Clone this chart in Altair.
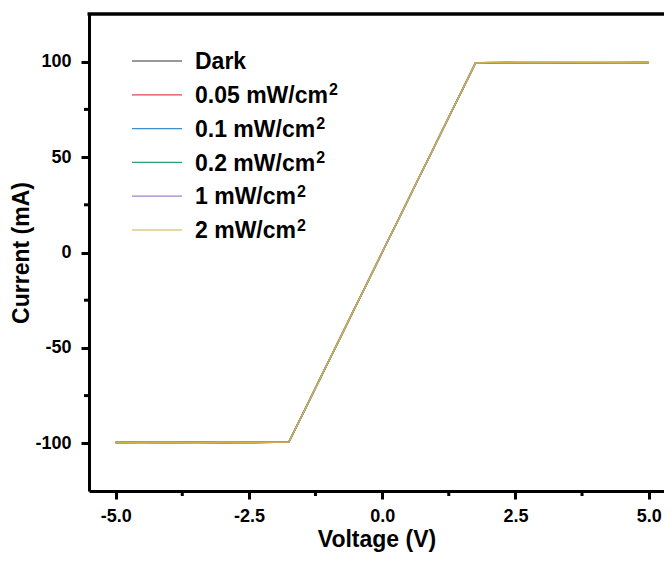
import altair as alt
import pandas as pd

# ---- data ----
voltage = [-5.0, -4.5, -4.0, -3.5, -3.0, -2.5, -2.0, -1.75, 0.0, 1.75, 2.0, 2.5, 3.0, 3.5, 4.0, 4.5, 5.0]
series = ["Dark", "0.05 mW/cm", "0.1 mW/cm", "0.2 mW/cm", "1 mW/cm", "2 mW/cm"]
superscripts = ["", "2", "2", "2", "2", "2"]
colors = ["#333333", "#e0454c", "#3a8fd0", "#2f9e70", "#a680cf", "#cdb24a"]
current_dark = [-99.6, -99.5, -99.6, -99.5, -99.6, -99.5, -99.4, -99.3, 0.0, 99.2, 99.5, 99.6, 99.5, 99.6, 99.5, 99.6, 99.6]
current_005 = [-99.5, -99.6, -99.5, -99.6, -99.5, -99.6, -99.5, -99.3, 0.0, 99.3, 99.6, 99.5, 99.6, 99.5, 99.6, 99.5, 99.6]
current_01 = [-99.7, -99.6, -99.7, -99.6, -99.7, -99.7, -99.5, -99.4, 0.0, 99.2, 99.4, 99.5, 99.4, 99.5, 99.4, 99.5, 99.5]
current_02 = [-99.6, -99.6, -99.5, -99.6, -99.6, -99.5, -99.5, -99.3, 0.0, 99.3, 99.5, 99.6, 99.6, 99.5, 99.6, 99.6, 99.6]
current_1 = [-99.5, -99.5, -99.6, -99.5, -99.5, -99.6, -99.4, -99.3, 0.0, 99.2, 99.5, 99.5, 99.6, 99.6, 99.5, 99.5, 99.6]
current_2 = [-99.6, -99.5, -99.5, -99.6, -99.5, -99.5, -99.5, -99.3, 0.0, 99.3, 99.6, 99.6, 99.5, 99.6, 99.6, 99.5, 99.6]
currents = [current_dark, current_005, current_01, current_02, current_1, current_2]

x_major = [-5.0, -2.5, 0.0, 2.5, 5.0]
x_minor = [-3.75, -1.25, 1.25, 3.75]
y_major = [-100, -50, 0, 50, 100]
y_minor = [-75, -25, 25, 75]

rows = []
for s, cur in zip(series, currents):
    for v, c in zip(voltage, cur):
        rows.append({"Voltage": v, "Current": c, "Series": s})
df = pd.DataFrame(rows)

W, H = 575, 477
X0 = -5.5
PX_PER_V = 53.3
X1 = X0 + W / PX_PER_V
Y0, Y1 = -125, 125
FONT = "Liberation Sans"
xscale = alt.Scale(domain=[X0, X1], nice=False, zero=False)
yscale = alt.Scale(domain=[Y0, Y1], nice=False, zero=False)
cscale = alt.Scale(domain=series, range=colors)

HYPHEN = "replace(datum.label, '\u2212', '-')"
xaxis = alt.Axis(values=x_major, format=".1f", labelExpr=HYPHEN, title="Voltage (V)", grid=False,
                 labelPadding=8, titlePadding=3)
yaxis = alt.Axis(values=y_major, format="d", labelExpr=HYPHEN, title="Current (mA)", grid=False,
                 labelPadding=10, titlePadding=1)

lines = alt.Chart(df).mark_line(strokeWidth=1.5, clip=True).encode(
    x=alt.X("Voltage:Q", scale=xscale, axis=xaxis),
    y=alt.Y("Current:Q", scale=yscale, axis=yaxis),
    color=alt.Color("Series:N", scale=cscale, legend=None),
    order=alt.Order("Voltage:Q"),
)

xminor = alt.Chart(pd.DataFrame({"Voltage": x_minor})).mark_rule(color="black", strokeWidth=3).encode(
    x=alt.X("Voltage:Q", scale=xscale, axis=xaxis),
    y=alt.value(H), y2=alt.value(H + 5),
)
yminor = alt.Chart(pd.DataFrame({"Current": y_minor})).mark_rule(color="black", strokeWidth=3).encode(
    y=alt.Y("Current:Q", scale=yscale, axis=yaxis),
    x=alt.value(0), x2=alt.value(-5),
)
topframe = alt.Chart(pd.DataFrame({"a": [0]})).mark_rule(color="black", strokeWidth=3.5).encode(
    x=alt.value(-1.5), x2=alt.value(W), y=alt.value(0),
)

# legend rows: pixel layout of the legend converted to data units
LEG_FS = 23
SUP_FS = 16
TEXT_X = 106
char_w = {"0": .556, "1": .556, "2": .556, "5": .556, ".": .278, " ": .278, "m": .889,
          "W": .944, "/": .278, "c": .556, "D": .722, "a": .556, "r": .389, "k": .556}
leg_rows = []
for i, (s, sup) in enumerate(zip(series, superscripts)):
    py = 47 + 33.8 * i
    width_px = sum(char_w.get(ch, .6) for ch in s) * LEG_FS
    leg_rows.append({"Series": s, "Sup": sup,
                     "Current": Y1 - py * (Y1 - Y0) / H,
                     "Voltage": X0 + (TEXT_X + width_px + 1) / PX_PER_V})
leg_df = pd.DataFrame(leg_rows)

leg_lines = alt.Chart(leg_df).mark_rule(strokeWidth=1.2).encode(
    x=alt.value(43), x2=alt.value(93),
    y=alt.Y("Current:Q", scale=yscale, axis=yaxis),
    color=alt.Color("Series:N", scale=cscale, legend=None),
)
leg_text = alt.Chart(leg_df).mark_text(
    align="left", baseline="alphabetic", dy=8.2, font=FONT, fontWeight="bold", fontSize=LEG_FS, color="black"
).encode(
    x=alt.value(TEXT_X),
    y=alt.Y("Current:Q", scale=yscale, axis=yaxis),
    text="Series:N",
)
leg_sup = alt.Chart(leg_df).mark_text(
    align="left", baseline="alphabetic", dy=0.5, font=FONT, fontWeight="bold", fontSize=SUP_FS, color="black"
).encode(
    x=alt.X("Voltage:Q", scale=xscale, axis=xaxis),
    y=alt.Y("Current:Q", scale=yscale, axis=yaxis),
    text="Sup:N",
)

chart = alt.layer(lines, xminor, yminor, topframe, leg_lines, leg_text, leg_sup).properties(
    width=W, height=H,
    autosize=alt.AutoSizeParams(type="none"),
    padding={"left": 81, "top": 6, "right": 0, "bottom": 61},
).configure_view(stroke=None).configure_axis(
    domainColor="black", domainWidth=3, tickColor="black", tickWidth=3, tickSize=8,
    labelFont=FONT, labelFontWeight="bold", labelFontSize=18, labelColor="black",
    titleFont=FONT, titleFontWeight="bold", titleFontSize=23, titleColor="black",
)

chart.save("out.html", embed_options={"renderer": "svg", "actions": False})
